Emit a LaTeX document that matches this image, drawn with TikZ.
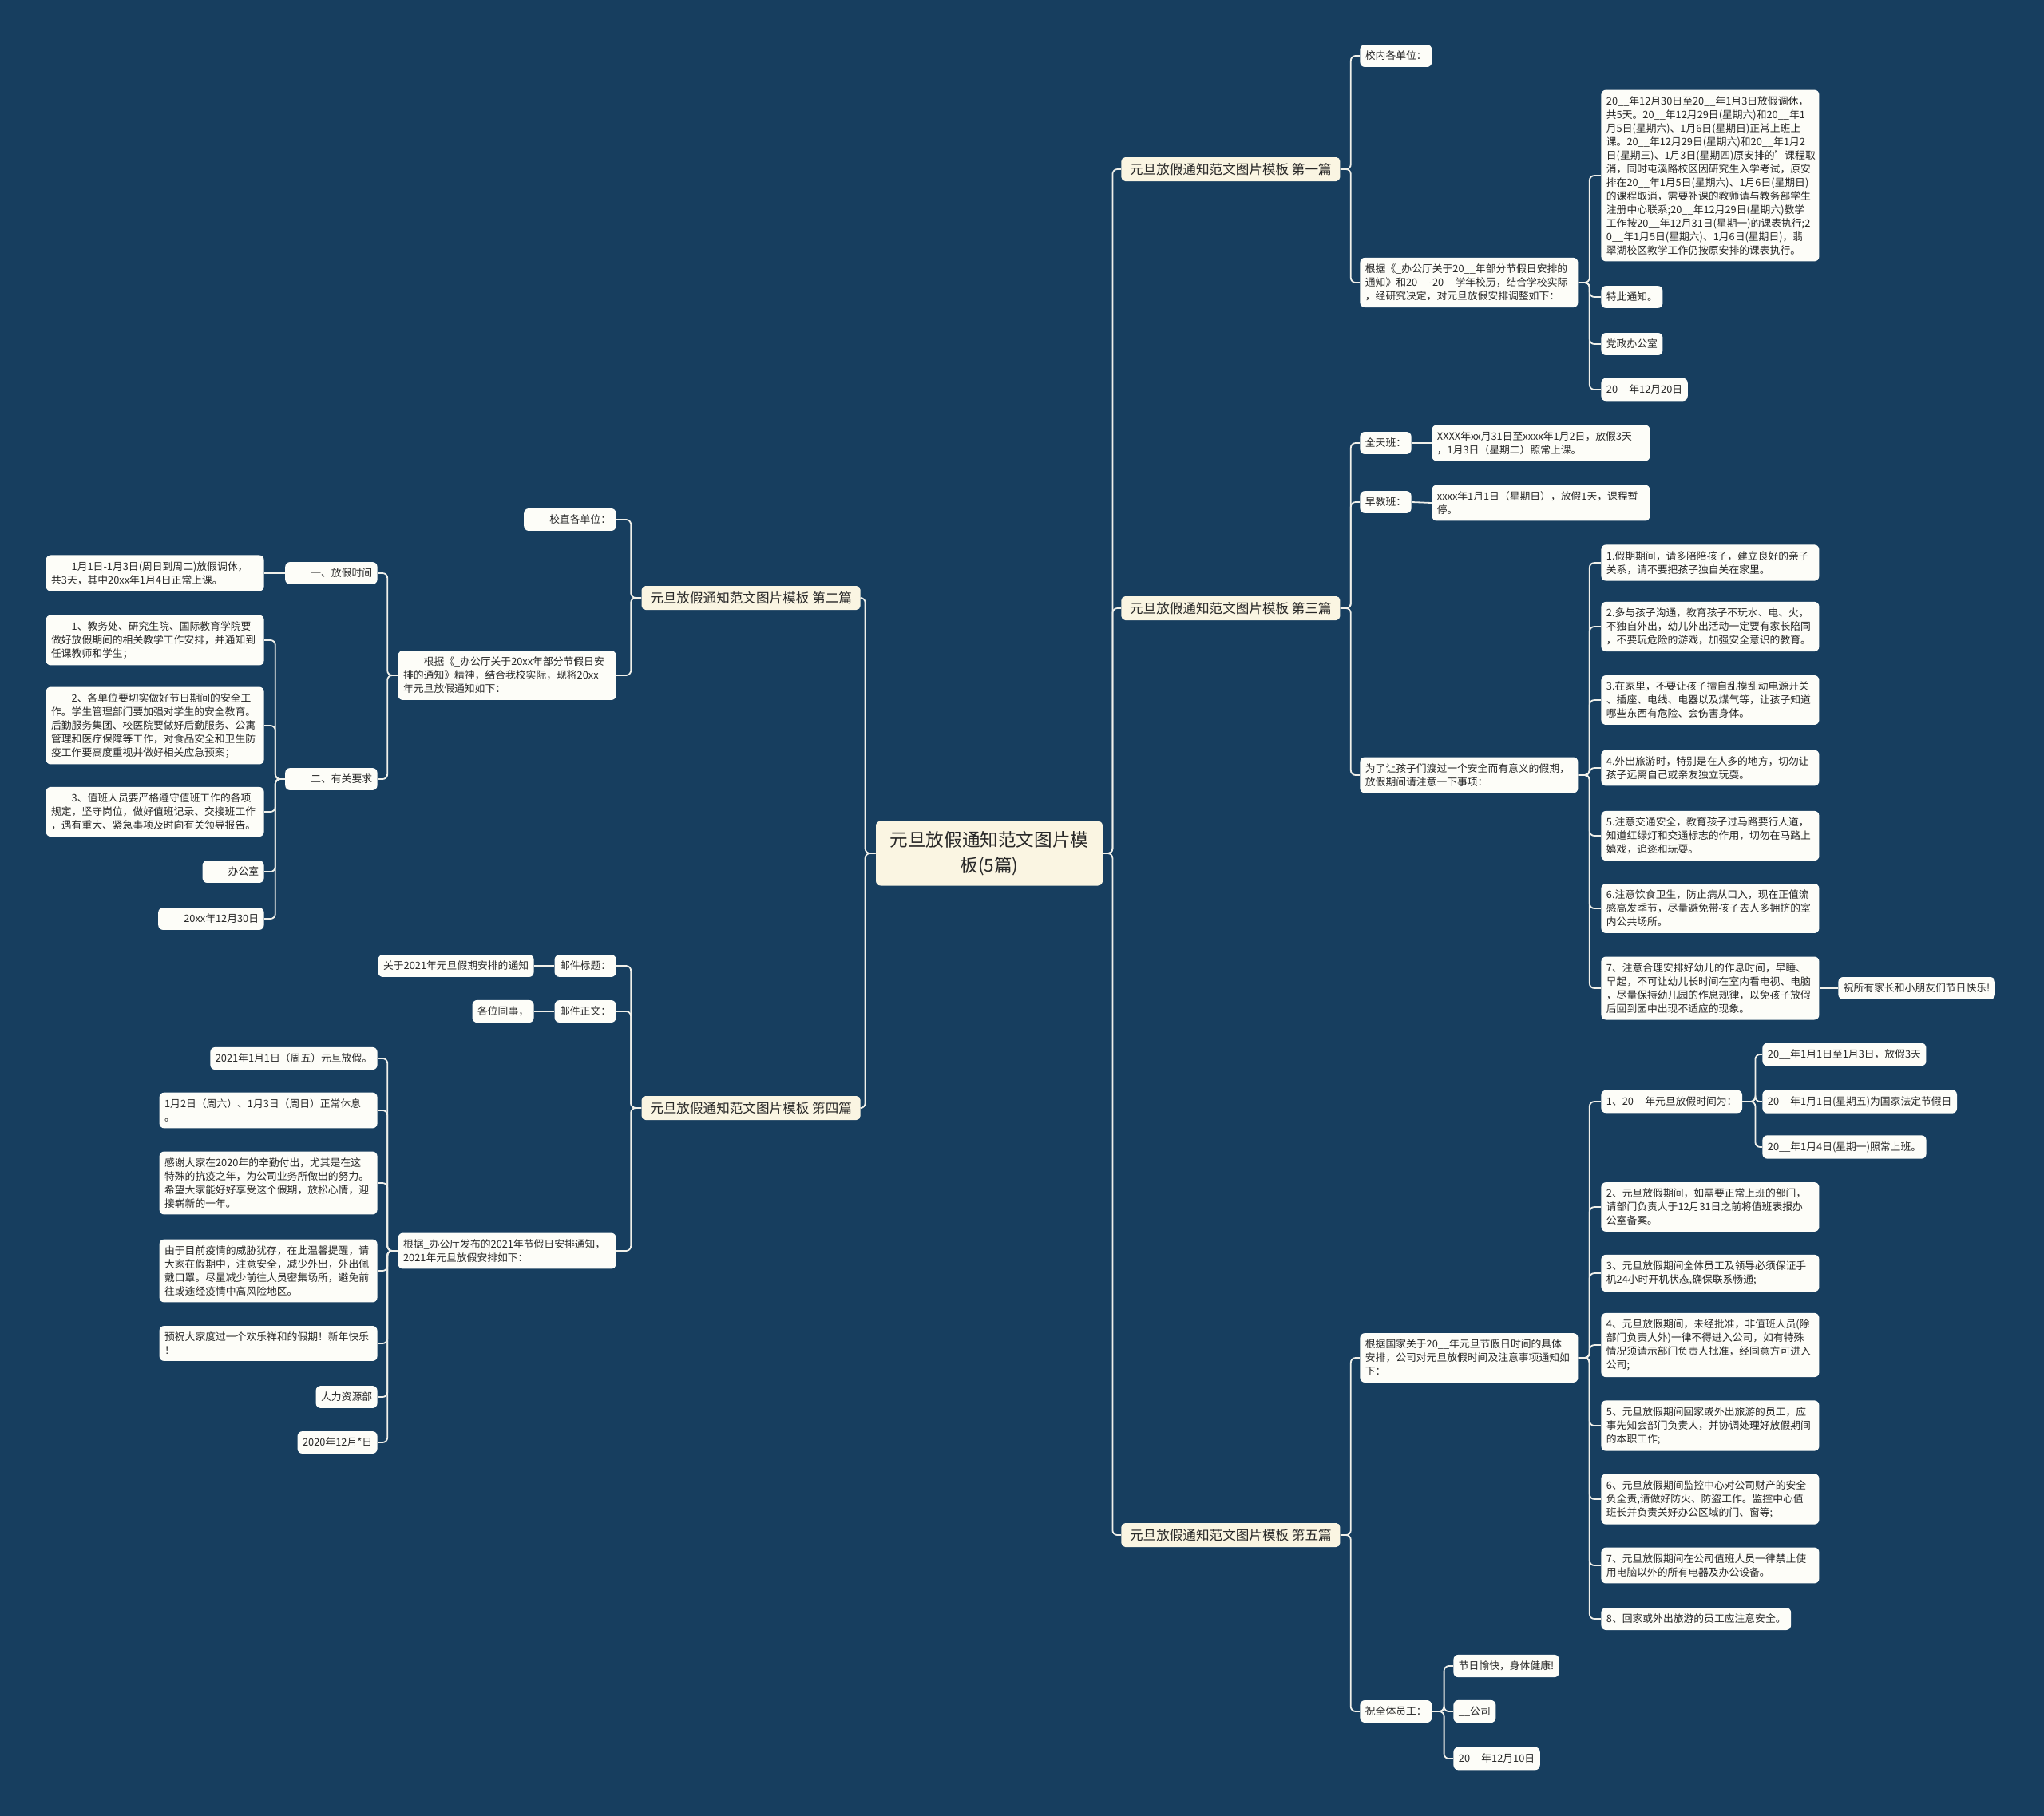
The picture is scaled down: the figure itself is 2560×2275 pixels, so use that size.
\documentclass[tikz,border=0pt]{standalone}
\usepackage{fontspec}
\setmainfont{Noto Sans CJK SC}
\usepackage{tikz}
\usepackage{xcolor}
\definecolor{mapnavy}{RGB}{23,62,95}
\definecolor{mapcream}{RGB}{250,245,226}
\definecolor{mapleaf}{RGB}{253,253,248}
\definecolor{mapink}{RGB}{40,40,40}
\definecolor{mapline}{RGB}{240,240,234}
\newcommand{\leaffont}{\fontsize{6.4pt}{8.5pt}\selectfont}
\newcommand{\topicfont}{\fontsize{8.3pt}{10pt}\selectfont}
\newcommand{\rootfont}{\fontsize{11.3pt}{16pt}\selectfont}

\begin{document}
\begin{tikzpicture}[
  x=0.5pt, y=-0.5pt,
  rootbox/.style={fill=mapcream, rounded corners=3pt, text=mapink, font=\rootfont,
                  align=center, text width=126pt, minimum width=142pt, minimum height=40.5pt},
  topic/.style={fill=mapcream, rounded corners=2.5pt, text=mapink, font=\topicfont,
                inner xsep=3.5pt, inner ysep=0pt, minimum width=137pt, minimum height=15pt},
  leaf/.style={fill=mapleaf, rounded corners=3pt, text=mapink, font=\leaffont,
               inner xsep=3.25pt, inner ysep=4pt},
  wide/.style={leaf, text width=130pt, align=left},
  conn/.style={draw=mapline, line width=0.9pt, rounded corners=3pt},
]
  \useasboundingbox (0,0) rectangle (2560,2275);
  \fill[mapnavy] (0,0) rectangle (2560,2275);

  % centre and the five chapters
  \node[rootbox] (root) at (1239,1069) {元旦放假通知范文图片模\\板(5篇)};
  \node[topic, anchor=west] (b1) at (1404,212) {元旦放假通知范文图片模板 第一篇};
  \node[topic, anchor=west] (b3) at (1404,762) {元旦放假通知范文图片模板 第三篇};
  \node[topic, anchor=west] (b5) at (1404,1923) {元旦放假通知范文图片模板 第五篇};
  \node[topic, anchor=east] (b2) at (1078,749) {元旦放假通知范文图片模板 第二篇};
  \node[topic, anchor=east] (b4) at (1078,1388) {元旦放假通知范文图片模板 第四篇};
  \draw[conn] (root.east) -- ++(12,0) |- (b1.west);
  \draw[conn] (root.east) -- ++(12,0) |- (b3.west);
  \draw[conn] (root.east) -- ++(12,0) |- (b5.west);
  \draw[conn] (root.west) -- ++(-13,0) |- (b2.east);
  \draw[conn] (root.west) -- ++(-13,0) |- (b4.east);

  % first
  \node[leaf, anchor=west] (b1a) at (1703,70) {校内各单位：};
  \node[wide, anchor=west] (b1b) at (1703,354) {根据《\_办公厅关于20\_\_年部分节假日安排的\\通知》和20\_\_-20\_\_学年校历，结合学校实际\\，经研究决定，对元旦放假安排调整如下：};
  \node[wide, anchor=west] (b1b1) at (2005,220) {20\_\_年12月30日至20\_\_年1月3日放假调休，\\共5天。20\_\_年12月29日(星期六)和20\_\_年1\\月5日(星期六)、1月6日(星期日)正常上班上\\课。20\_\_年12月29日(星期六)和20\_\_年1月2\\日(星期三)、1月3日(星期四)原安排的'课程取\\消，同时屯溪路校区因研究生入学考试，原安\\排在20\_\_年1月5日(星期六)、1月6日(星期日)\\的课程取消，需要补课的教师请与教务部学生\\注册中心联系;20\_\_年12月29日(星期六)教学\\工作按20\_\_年12月31日(星期一)的课表执行;2\\0\_\_年1月5日(星期六)、1月6日(星期日)，翡\\翠湖校区教学工作仍按原安排的课表执行。};
  \node[leaf, anchor=west] (b1b2) at (2005,372) {特此通知。};
  \node[leaf, anchor=west] (b1b3) at (2005,431) {党政办公室};
  \node[leaf, anchor=west] (b1b4) at (2005,488) {20\_\_年12月20日};
  \draw[conn] (b1.east) -- ++(13,0) |- (b1a.west);
  \draw[conn] (b1.east) -- ++(13,0) |- (b1b.west);
  \draw[conn] (b1b.east) -- ++(14,0) |- (b1b1.west);
  \draw[conn] (b1b.east) -- ++(14,0) |- (b1b2.west);
  \draw[conn] (b1b.east) -- ++(14,0) |- (b1b3.west);
  \draw[conn] (b1b.east) -- ++(14,0) |- (b1b4.west);

  % third
  \node[leaf, anchor=west] (b3a) at (1703,555) {全天班：};
  \node[wide, anchor=west] (b3a1) at (1793,555) {XXXX年xx月31日至xxxx年1月2日，放假3天\\，1月3日（星期二）照常上课。};
  \node[leaf, anchor=west] (b3b) at (1703,629) {早教班：};
  \node[wide, anchor=west] (b3b1) at (1793,630) {xxxx年1月1日（星期日），放假1天，课程暂\\停。};
  \node[wide, anchor=west] (b3c) at (1703,971) {为了让孩子们渡过一个安全而有意义的假期，\\放假期间请注意一下事项：};
  \node[wide, anchor=west] (b3c1) at (2005,705) {1.假期期间，请多陪陪孩子，建立良好的亲子\\关系，请不要把孩子独自关在家里。};
  \node[wide, anchor=west] (b3c2) at (2005,785) {2.多与孩子沟通，教育孩子不玩水、电、火，\\不独自外出，幼儿外出活动一定要有家长陪同\\，不要玩危险的游戏，加强安全意识的教育。};
  \node[wide, anchor=west] (b3c3) at (2005,877) {3.在家里，不要让孩子擅自乱摸乱动电源开关\\、插座、电线、电器以及煤气等，让孩子知道\\哪些东西有危险、会伤害身体。};
  \node[wide, anchor=west] (b3c4) at (2005,962) {4.外出旅游时，特别是在人多的地方，切勿让\\孩子远离自己或亲友独立玩耍。};
  \node[wide, anchor=west] (b3c5) at (2005,1047) {5.注意交通安全，教育孩子过马路要行人道，\\知道红绿灯和交通标志的作用，切勿在马路上\\嬉戏，追逐和玩耍。};
  \node[wide, anchor=west] (b3c6) at (2005,1138) {6.注意饮食卫生，防止病从口入，现在正值流\\感高发季节，尽量避免带孩子去人多拥挤的室\\内公共场所。};
  \node[wide, anchor=west] (b3c7) at (2005,1238) {7、注意合理安排好幼儿的作息时间，早睡、\\早起，不可让幼儿长时间在室内看电视、电脑\\，尽量保持幼儿园的作息规律，以免孩子放假\\后回到园中出现不适应的现象。};
  \node[leaf, anchor=west] (b3c7a) at (2302,1238) {祝所有家长和小朋友们节日快乐!};
  \draw[conn] (b3.east) -- ++(13,0) |- (b3a.west);
  \draw[conn] (b3.east) -- ++(13,0) |- (b3b.west);
  \draw[conn] (b3.east) -- ++(13,0) |- (b3c.west);
  \draw[conn] (b3a.east) -- (b3a1.west);
  \draw[conn] (b3b.east) -- (b3b1.west);
  \draw[conn] (b3c.east) -- ++(14,0) |- (b3c1.west);
  \draw[conn] (b3c.east) -- ++(14,0) |- (b3c2.west);
  \draw[conn] (b3c.east) -- ++(14,0) |- (b3c3.west);
  \draw[conn] (b3c.east) -- ++(14,0) |- (b3c4.west);
  \draw[conn] (b3c.east) -- ++(14,0) |- (b3c5.west);
  \draw[conn] (b3c.east) -- ++(14,0) |- (b3c6.west);
  \draw[conn] (b3c.east) -- ++(14,0) |- (b3c7.west);
  \draw[conn] (b3c7.east) -- (b3c7a.west);

  % fifth
  \node[wide, anchor=west] (b5a) at (1703,1701) {根据国家关于20\_\_年元旦节假日时间的具体\\安排，公司对元旦放假时间及注意事项通知如\\下：};
  \node[leaf, anchor=west] (b5a1) at (2005,1380) {1、20\_\_年元旦放假时间为：};
  \node[leaf, anchor=west] (b5a1a) at (2207,1321) {20\_\_年1月1日至1月3日，放假3天};
  \node[leaf, anchor=west] (b5a1b) at (2207,1380) {20\_\_年1月1日(星期五)为国家法定节假日};
  \node[leaf, anchor=west] (b5a1c) at (2207,1437) {20\_\_年1月4日(星期一)照常上班。};
  \node[wide, anchor=west] (b5a2) at (2005,1512) {2、元旦放假期间，如需要正常上班的部门，\\请部门负责人于12月31日之前将值班表报办\\公室备案。};
  \node[wide, anchor=west] (b5a3) at (2005,1595) {3、元旦放假期间全体员工及领导必须保证手\\机24小时开机状态,确保联系畅通;};
  \node[wide, anchor=west] (b5a4) at (2005,1685) {4、元旦放假期间，未经批准，非值班人员(除\\部门负责人外)一律不得进入公司，如有特殊\\情况须请示部门负责人批准，经同意方可进入\\公司;};
  \node[wide, anchor=west] (b5a5) at (2005,1786) {5、元旦放假期间回家或外出旅游的员工，应\\事先知会部门负责人，并协调处理好放假期间\\的本职工作;};
  \node[wide, anchor=west] (b5a6) at (2005,1878) {6、元旦放假期间监控中心对公司财产的安全\\负全责,请做好防火、防盗工作。监控中心值\\班长并负责关好办公区域的门、窗等;};
  \node[wide, anchor=west] (b5a7) at (2005,1961) {7、元旦放假期间在公司值班人员一律禁止使\\用电脑以外的所有电器及办公设备。};
  \node[leaf, anchor=west] (b5a8) at (2005,2028) {8、回家或外出旅游的员工应注意安全。};
  \node[leaf, anchor=west] (b5b) at (1703,2144) {祝全体员工：};
  \node[leaf, anchor=west] (b5b1) at (1820,2087) {节日愉快，身体健康!};
  \node[leaf, anchor=west] (b5b2) at (1820,2144) {\_\_公司};
  \node[leaf, anchor=west] (b5b3) at (1820,2203) {20\_\_年12月10日};
  \draw[conn] (b5.east) -- ++(13,0) |- (b5a.west);
  \draw[conn] (b5.east) -- ++(13,0) |- (b5b.west);
  \draw[conn] (b5a.east) -- ++(14,0) |- (b5a1.west);
  \draw[conn] (b5a.east) -- ++(14,0) |- (b5a2.west);
  \draw[conn] (b5a.east) -- ++(14,0) |- (b5a3.west);
  \draw[conn] (b5a.east) -- ++(14,0) |- (b5a4.west);
  \draw[conn] (b5a.east) -- ++(14,0) |- (b5a5.west);
  \draw[conn] (b5a.east) -- ++(14,0) |- (b5a6.west);
  \draw[conn] (b5a.east) -- ++(14,0) |- (b5a7.west);
  \draw[conn] (b5a.east) -- ++(14,0) |- (b5a8.west);
  \draw[conn] (b5a1.east) -- ++(16,0) |- (b5a1a.west);
  \draw[conn] (b5a1.east) -- ++(16,0) |- (b5a1b.west);
  \draw[conn] (b5a1.east) -- ++(16,0) |- (b5a1c.west);
  \draw[conn] (b5b.east) -- ++(15,0) |- (b5b1.west);
  \draw[conn] (b5b.east) -- ++(15,0) |- (b5b2.west);
  \draw[conn] (b5b.east) -- ++(15,0) |- (b5b3.west);

  % second
  \node[leaf, anchor=east] (b2a) at (772,651) {\hspace*{2em}校直各单位：};
  \node[wide, anchor=east] (b2b) at (772,846) {\hspace*{2em}根据《\_办公厅关于20xx年部分节假日安\\排的通知》精神，结合我校实际，现将20xx\\年元旦放假通知如下：};
  \node[leaf, anchor=east] (b2b1) at (473,718) {\hspace*{2em}一、放假时间};
  \node[wide, anchor=east] (b2b1a) at (331,718) {\hspace*{2em}1月1日-1月3日(周日到周二)放假调休，\\共3天，其中20xx年1月4日正常上课。};
  \node[leaf, anchor=east] (b2b2) at (473,976) {\hspace*{2em}二、有关要求};
  \node[wide, anchor=east] (b2b2a) at (331,802) {\hspace*{2em}1、教务处、研究生院、国际教育学院要\\做好放假期间的相关教学工作安排，并通知到\\任课教师和学生；};
  \node[wide, anchor=east] (b2b2b) at (331,909) {\hspace*{2em}2、各单位要切实做好节日期间的安全工\\作。学生管理部门要加强对学生的安全教育。\\后勤服务集团、校医院要做好后勤服务、公寓\\管理和医疗保障等工作，对食品安全和卫生防\\疫工作要高度重视并做好相关应急预案；};
  \node[wide, anchor=east] (b2b2c) at (331,1017) {\hspace*{2em}3、值班人员要严格遵守值班工作的各项\\规定，坚守岗位，做好值班记录、交接班工作\\，遇有重大、紧急事项及时向有关领导报告。};
  \node[leaf, anchor=east] (b2b2d) at (331,1092) {\hspace*{2em}办公室};
  \node[leaf, anchor=east] (b2b2e) at (331,1151) {\hspace*{2em}20xx年12月30日};
  \draw[conn] (b2.west) -- ++(-13,0) |- (b2a.east);
  \draw[conn] (b2.west) -- ++(-13,0) |- (b2b.east);
  \draw[conn] (b2b.west) -- ++(-13,0) |- (b2b1.east);
  \draw[conn] (b2b.west) -- ++(-13,0) |- (b2b2.east);
  \draw[conn] (b2b1.west) -- (b2b1a.east);
  \draw[conn] (b2b2.west) -- ++(-12,0) |- (b2b2a.east);
  \draw[conn] (b2b2.west) -- ++(-12,0) |- (b2b2b.east);
  \draw[conn] (b2b2.west) -- ++(-12,0) |- (b2b2c.east);
  \draw[conn] (b2b2.west) -- ++(-12,0) |- (b2b2d.east);
  \draw[conn] (b2b2.west) -- ++(-12,0) |- (b2b2e.east);

  % fourth
  \node[leaf, anchor=east] (b4a) at (772,1210) {邮件标题：};
  \node[leaf, anchor=east] (b4a1) at (669,1210) {关于2021年元旦假期安排的通知};
  \node[leaf, anchor=east] (b4b) at (772,1267) {邮件正文：};
  \node[leaf, anchor=east] (b4b1) at (669,1267) {各位同事，};
  \node[wide, anchor=east] (b4c) at (772,1567) {根据\_办公厅发布的2021年节假日安排通知，\\2021年元旦放假安排如下：};
  \node[leaf, anchor=east] (b4c1) at (473,1326) {2021年1月1日（周五）元旦放假。};
  \node[wide, anchor=east] (b4c2) at (473,1391) {1月2日（周六）、1月3日（周日）正常休息\\。};
  \node[wide, anchor=east] (b4c3) at (473,1482) {感谢大家在2020年的辛勤付出，尤其是在这\\特殊的抗疫之年，为公司业务所做出的努力。\\希望大家能好好享受这个假期，放松心情，迎\\接崭新的一年。};
  \node[wide, anchor=east] (b4c4) at (473,1592) {由于目前疫情的威胁犹存，在此温馨提醒，请\\大家在假期中，注意安全，减少外出，外出佩\\戴口罩。尽量减少前往人员密集场所，避免前\\往或途经疫情中高风险地区。};
  \node[wide, anchor=east] (b4c5) at (473,1683) {预祝大家度过一个欢乐祥和的假期！新年快乐\\！};
  \node[leaf, anchor=east] (b4c6) at (473,1750) {人力资源部};
  \node[leaf, anchor=east] (b4c7) at (473,1807) {2020年12月*日};
  \draw[conn] (b4.west) -- ++(-13,0) |- (b4a.east);
  \draw[conn] (b4.west) -- ++(-13,0) |- (b4b.east);
  \draw[conn] (b4.west) -- ++(-13,0) |- (b4c.east);
  \draw[conn] (b4a.west) -- (b4a1.east);
  \draw[conn] (b4b.west) -- (b4b1.east);
  \draw[conn] (b4c.west) -- ++(-13,0) |- (b4c1.east);
  \draw[conn] (b4c.west) -- ++(-13,0) |- (b4c2.east);
  \draw[conn] (b4c.west) -- ++(-13,0) |- (b4c3.east);
  \draw[conn] (b4c.west) -- ++(-13,0) |- (b4c4.east);
  \draw[conn] (b4c.west) -- ++(-13,0) |- (b4c5.east);
  \draw[conn] (b4c.west) -- ++(-13,0) |- (b4c6.east);
  \draw[conn] (b4c.west) -- ++(-13,0) |- (b4c7.east);
\end{tikzpicture}
\end{document}
